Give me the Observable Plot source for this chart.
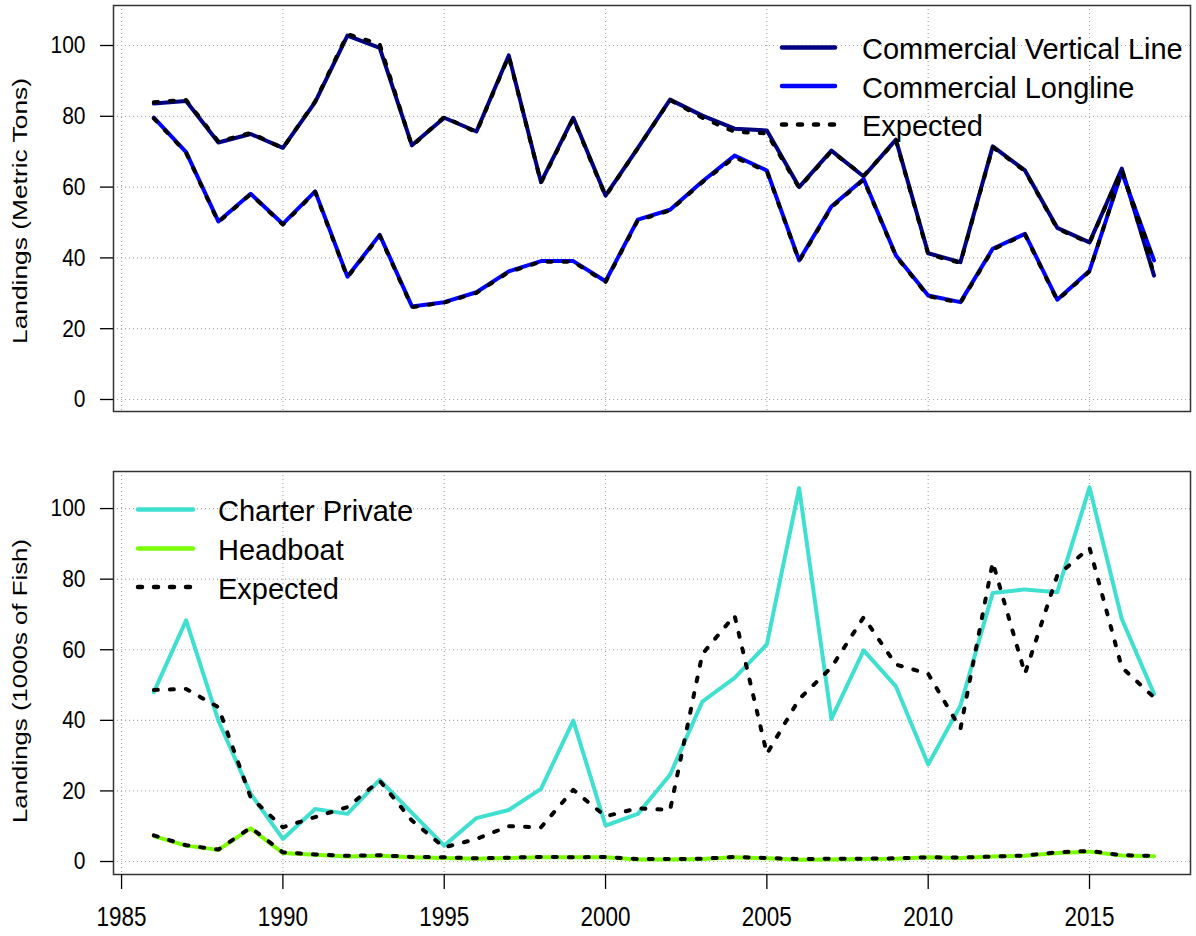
<!DOCTYPE html>
<html>
<head>
<meta charset="utf-8">
<script src="https://cdn.jsdelivr.net/npm/d3@7"></script>
<script src="https://cdn.jsdelivr.net/npm/@observablehq/plot@0.6"></script>
<style>
  html, body { margin: 0; padding: 0; background: #fff; }
  #chart { position: relative; width: 1196px; height: 936px; background: #fff;
           font-family: "Liberation Sans", Arial, sans-serif; }
  #chart svg { position: absolute; left: 0; }
</style>
</head>
<body>
<div id="chart"></div>
<script>
// ---------------- data ----------------
const years = [1986, 1987, 1988, 1989, 1990, 1991, 1992, 1993, 1994, 1995,
               1996, 1997, 1998, 1999, 2000, 2001, 2002, 2003, 2004, 2005,
               2006, 2007, 2008, 2009, 2010, 2011, 2012, 2013, 2014, 2015,
               2016, 2017];

// top panel (metric tons)
const verticalLine = [83.6, 84.3, 72.6, 75.0, 71.1, 84.0, 102.8, 99.3, 71.8, 79.6,
                      75.7, 97.2, 61.4, 79.6, 57.6, 71.0, 84.7, 80.2, 76.5, 76.0,
                      60.0, 70.3, 63.0, 73.4, 41.3, 38.8, 71.5, 64.7, 48.5, 44.4,
                      65.2, 35.0];
const verticalExpected = [84.0, 84.6, 72.9, 75.3, 71.0, 84.2, 103.2, 100.4, 71.6, 79.8,
                          75.5, 97.0, 61.2, 79.4, 57.4, 71.0, 84.6, 79.6, 75.6, 75.2,
                          59.8, 70.1, 63.2, 73.2, 41.0, 38.6, 71.3, 64.5, 48.3, 44.2,
                          65.0, 35.5];
const longline = [79.6, 69.9, 50.3, 58.1, 49.6, 58.8, 34.7, 46.5, 26.3, 27.5,
                  30.3, 36.2, 39.1, 39.1, 33.4, 50.8, 53.6, 61.6, 68.9, 64.7,
                  39.3, 54.5, 62.3, 40.7, 29.4, 27.5, 42.6, 46.8, 28.2, 36.4,
                  64.2, 39.3];
const longlineExpected = [79.4, 69.7, 50.1, 58.0, 49.4, 58.6, 34.5, 46.3, 26.1, 27.4,
                          30.1, 36.0, 38.9, 38.9, 33.2, 50.6, 53.4, 61.4, 68.4, 64.5,
                          39.1, 54.3, 62.1, 40.5, 29.2, 27.3, 42.4, 46.6, 28.0, 36.2,
                          64.5, 38.8];

// bottom panel (1000s of fish)
const charterPrivate = [48.0, 68.3, 39.9, 19.2, 6.4, 14.9, 13.5, 23.1, 13.8, 4.5,
                        12.3, 14.6, 20.6, 39.9, 10.2, 13.5, 24.6, 45.3, 52.0, 61.5,
                        105.8, 40.4, 59.8, 49.6, 27.5, 44.2, 76.1, 77.1, 76.3, 106.0,
                        68.7, 47.5];
const charterExpected = [48.6, 48.9, 43.7, 18.2, 9.7, 12.6, 15.4, 22.9, 11.6, 4.0,
                         6.4, 10.0, 9.7, 20.3, 12.8, 15.1, 14.6, 58.8, 69.7, 30.5,
                         46.0, 55.0, 69.2, 55.8, 53.2, 37.6, 84.8, 53.2, 81.0, 88.9,
                         55.0, 46.5];
const headboat = [7.2, 4.5, 3.3, 9.4, 2.4, 1.9, 1.4, 1.6, 1.2, 1.0,
                  0.8, 1.0, 1.2, 1.2, 1.2, 0.6, 0.6, 0.7, 1.2, 0.9,
                  0.5, 0.6, 0.7, 0.8, 1.2, 1.0, 1.4, 1.6, 2.4, 2.8,
                  1.7, 1.5];
const headboatExpected = [7.4, 4.6, 3.4, 9.6, 2.6, 2.0, 1.6, 1.8, 1.3, 1.2,
                          0.9, 1.1, 1.3, 1.2, 1.3, 0.7, 0.7, 0.8, 1.3, 1.0,
                          0.7, 0.8, 0.8, 0.9, 1.2, 1.1, 1.4, 1.7, 2.6, 3.0,
                          1.8, 1.6];

// ticks and labels
const xTicks = [1985, 1990, 1995, 2000, 2005, 2010, 2015];
const yTicks = [0, 20, 40, 60, 80, 100];
const topTitle = "Landings (Metric Tons)";
const bottomTitle = "Landings (1000s of Fish)";
const topLegendLabels = ["Commercial Vertical Line", "Commercial Longline", "Expected"];
const bottomLegendLabels = ["Charter Private", "Headboat", "Expected"];

// colours
const cVertical = "#000080";
const cLongline = "#0000ff";
const cCharter = "#40e0d0";
const cHeadboat = "#7cfc00";
const cExpected = "#000000";

// ---------------- drawing ----------------
const W = 1196;
const xDomain = [1984.75, 2018.13];
const toRows = vals => years.map((year, i) => ({year, value: vals[i]}));
const dash = "4,12";
const lw = 4;

function stretch(selection, s) {
  selection.each(function () {
    const t = this.getAttribute("transform");
    if (t) {
      this.setAttribute("transform", t + ` scale(1,${s})`);
    } else {
      const x = +this.getAttribute("x") || 0, y = +this.getAttribute("y") || 0;
      this.removeAttribute("x"); this.removeAttribute("y");
      this.setAttribute("transform", `translate(${x},${y}) scale(1,${s})`);
    }
  });
}

function makePanel({height, marginTop, marginBottom, yDomain, solids, dashed, showX, title, titleLen, titleCy}) {
  const gridStyle = {stroke: "#a8a8a8", strokeOpacity: 1, strokeWidth: 1.2, strokeDasharray: "1,3"};
  const marks = [
    Plot.gridX(xTicks, gridStyle),
    Plot.gridY(yTicks, gridStyle),
    ...solids.map(s => Plot.line(toRows(s.values), {
      x: "year", y: "value", stroke: s.color, strokeWidth: lw,
      strokeLinejoin: "round", strokeLinecap: "round"})),
    ...dashed.map(v => Plot.line(toRows(v), {
      x: "year", y: "value", stroke: cExpected, strokeWidth: lw,
      strokeDasharray: dash, strokeLinejoin: "round", strokeLinecap: "round"})),
    Plot.frame({stroke: "#333", strokeWidth: 1.5}),
    Plot.axisY(yTicks, {tickSize: 13, tickPadding: 15, label: null, strokeWidth: 1.3,
                        fontSize: 21, tickFormat: d => String(d)})
  ];
  if (showX) {
    marks.push(Plot.axisX(xTicks, {tickSize: 15, tickPadding: 17, label: null, strokeWidth: 1.3,
                                   fontSize: 22.5, tickFormat: d => String(d)}));
  }
  const svg = Plot.plot({
    width: W, height,
    marginLeft: 113, marginRight: 6, marginTop, marginBottom,
    x: {domain: xDomain, axis: null},
    y: {domain: yDomain, axis: null},
    style: {fontFamily: "'Liberation Sans', Arial, sans-serif", fontSize: "21px",
            color: "black", background: "white", overflow: "visible"},
    marks
  });
  const s = d3.select(svg);
  stretch(s.selectAll('g[aria-label="y-axis tick label"] text'), 1.18);
  stretch(s.selectAll('g[aria-label="x-axis tick label"] text'), 1.2);
  s.append("text")
    .attr("transform", `translate(27,${titleCy}) rotate(-90)`)
    .attr("text-anchor", "middle")
    .attr("font-size", 20)
    .attr("fill", "black")
    .attr("textLength", titleLen)
    .attr("lengthAdjust", "spacingAndGlyphs")
    .text(title);
  return svg;
}

const chart = document.getElementById("chart");

const topSvg = makePanel({
  height: 440, marginTop: 5, marginBottom: 29, yDomain: [-3.39, 111.3],
  solids: [{values: verticalLine, color: cVertical}, {values: longline, color: cLongline}],
  dashed: [verticalExpected, longlineExpected],
  showX: false, title: topTitle, titleLen: 266, titleCy: 211
});
topSvg.style.top = "0px";
chart.appendChild(topSvg);

const botSvg = makePanel({
  height: 496, marginTop: 31, marginBottom: 62, yDomain: [-3.68, 110.5],
  solids: [{values: charterPrivate, color: cCharter}, {values: headboat, color: cHeadboat}],
  dashed: [charterExpected, headboatExpected],
  showX: true, title: bottomTitle, titleLen: 284, titleCy: 241
});
botSvg.style.top = "440px";
chart.appendChild(botSvg);

// legends (overlay)
const overlay = d3.select(chart).append("svg")
  .attr("width", W).attr("height", 936)
  .style("top", "0px").style("pointer-events", "none");

function legend(x1, x2, tx, ys, labels, styles) {
  labels.forEach((lab, i) => {
    const st = styles[i];
    const l = overlay.append("line")
      .attr("x1", x1).attr("x2", x2).attr("y1", ys[i]).attr("y2", ys[i])
      .attr("stroke", st.color).attr("stroke-width", 4.5)
      .attr("stroke-linecap", "round");
    if (st.dashed) l.attr("stroke-dasharray", dash);
    overlay.append("text")
      .attr("x", tx).attr("y", ys[i] + 11.5)
      .attr("font-family", "'Liberation Sans', Arial, sans-serif")
      .attr("font-size", 29).attr("fill", "black")
      .text(lab);
  });
}
legend(782, 835, 862, [47.5, 86, 124.5], topLegendLabels,
       [{color: cVertical}, {color: cLongline}, {color: cExpected, dashed: true}]);
legend(138, 193, 218, [509.5, 548.5, 587], bottomLegendLabels,
       [{color: cCharter}, {color: cHeadboat}, {color: cExpected, dashed: true}]);
</script>
</body>
</html>
